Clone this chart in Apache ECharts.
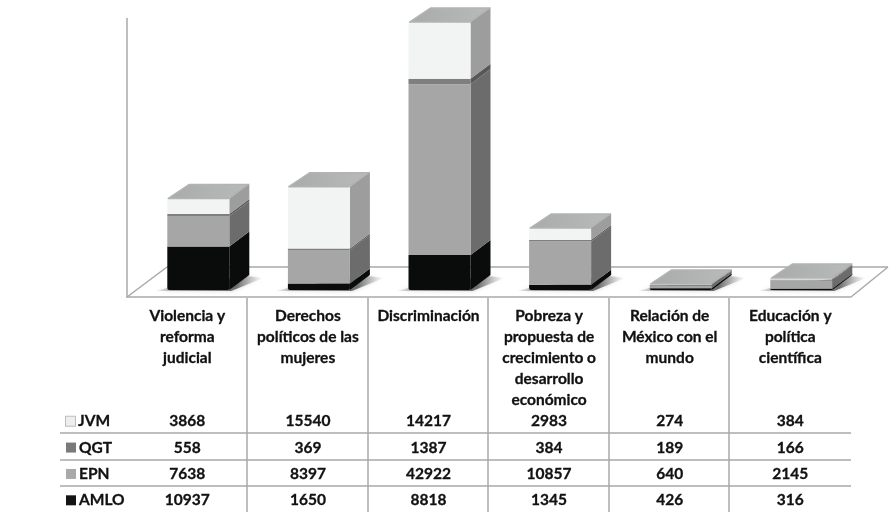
<!DOCTYPE html>
<html>
<head>
<meta charset="utf-8">
<style>html,body{margin:0;padding:0;background:#fff}#main{width:889px;height:516px}</style>
<script src="https://cdn.jsdelivr.net/npm/echarts@6/dist/echarts.min.js"></script>
</head>
<body>
<div id="main"></div>
<script>
var categories = ['Violencia y\nreforma\njudicial', 'Derechos\npolíticos de las\nmujeres', 'Discriminación',
  'Pobreza y\npropuesta de\ncrecimiento o\ndesarrollo\neconómico', 'Relación de\nMéxico con el\nmundo', 'Educación y\npolítica\ncientífica'];
var rows = ['JVM', 'QGT', 'EPN', 'AMLO'];
var jvm = [3868, 15540, 14217, 2983, 274, 384];
var qgt = [558, 369, 1387, 384, 189, 166];
var epn = [7638, 8397, 42922, 10857, 640, 2145];
var amlo = [10937, 1650, 8818, 1345, 426, 316];

var BAR_W = 62, DX = 20, DY = 15, LIFT = 7;
var FONT = 'Lato, Carlito, sans-serif';
var FONT_SIZE = 15.5;
var LINE = '#a9a9a9';
var INK = '#111111';

function grad(a, b, horizontal) {
  return new echarts.graphic.LinearGradient(0, 0, horizontal ? 1 : 0, horizontal ? 0 : 1, [
    {offset: 0, color: a}, {offset: 1, color: b}
  ]);
}

// sombra: clara a la izquierda, oscura junto a la barra, se pierde a la derecha
function shadowFill() {
  return new echarts.graphic.LinearGradient(0, 0, 1, 0, [
    {offset: 0, color: 'rgba(150,150,150,0.1)'},
    {offset: 0.15, color: 'rgba(110,110,110,0.55)'},
    {offset: 0.75, color: 'rgba(80,80,80,0.8)'},
    {offset: 1, color: 'rgba(150,150,150,0)'}
  ]);
}

function barItem(style, isBottom, isTop) {
  return function (params, api) {
    var p0 = api.coord([api.value(0), api.value(1)]);
    var p1 = api.coord([api.value(0), api.value(2)]);
    var x0 = p0[0] - 20, x1 = x0 + BAR_W;
    var yb = p0[1] - LIFT, yt = p1[1] - LIFT;
    var kids = [];
    if (isBottom) {
      // sombra sobre el piso
      kids.push({
        type: 'polygon',
        shape: {points: [[x0 - 12, yb + 1], [x1 + 2, yb + 1], [x1 + DX + 14, yb - DY + 3], [x1 + DX - 2, yb - DY + 1], [x0, yb - 2]]},
        style: {fill: shadowFill(), shadowBlur: 4, shadowColor: 'rgba(120,120,120,0.4)'}
      });
    }
    kids.push({
      type: 'polygon',
      shape: {points: [[x1, yb], [x1 + DX, yb - DY], [x1 + DX, yt - DY], [x1, yt]]},
      style: {fill: style.side}
    });
    kids.push({
      type: 'rect',
      shape: {x: x0, y: yt, width: BAR_W, height: yb - yt, r: isTop ? [3, 3, 0, 0] : (isBottom ? [0, 0, 2, 2] : 0)},
      style: {fill: style.front}
    });
    if (isTop) {
      kids.push({
        type: 'polygon',
        shape: {points: [[x0 + 1, yt], [x1 - 1, yt], [x1 + DX - 1, yt - DY + 1], [x0 + DX + 2, yt - DY + 1]]},
        style: {fill: grad('#a9abaa', '#b9bbba', true), stroke: '#b2b4b3', lineWidth: 1.5, lineJoin: 'round'}
      });
    }
    return {type: 'group', children: kids};
  };
}

function stackData(values, below) {
  return values.map(function (v, i) {
    var base = 0;
    below.forEach(function (b) { base += b[i]; });
    return [i, base, base + v];
  });
}

var cellData = [];
[jvm, qgt, epn, amlo].forEach(function (vals, r) {
  vals.forEach(function (v, c) { cellData.push([c, r, v]); });
});

var lines = [
  [[127, 297], [167, 267]], [[167, 267], [888, 267]], [[888, 267], [851, 297]],
  [[60, 433], [851, 433]], [[60, 460], [851, 460]], [[60, 486], [851, 486]],
  [[247, 298], [247, 512]], [[368, 298], [368, 512]], [[488, 298], [488, 512]],
  [[609, 298], [609, 512]], [[729, 298], [729, 512]]
];

var chart = echarts.init(document.getElementById('main'));
chart.setOption({
  animation: false,
  backgroundColor: '#fff',
  grid: [
    {left: 127, top: 18.5, width: 723.6, height: 278.5},
    {left: 127, top: 408, width: 723.6, height: 105.5}
  ],
  xAxis: [{
    type: 'category', gridIndex: 0, data: categories,
    axisLine: {lineStyle: {color: LINE, width: 1.5}},
    axisTick: {show: false},
    axisLabel: {interval: 0, margin: 8, fontFamily: FONT, fontWeight: 'bold', fontSize: FONT_SIZE, lineHeight: 21, color: INK, verticalAlign: 'top', textBorderColor: INK, textBorderWidth: 0.3}
  }, {
    type: 'category', gridIndex: 1, data: categories, show: false
  }],
  yAxis: [{
    type: 'value', gridIndex: 0, min: 0, max: 70000,
    axisLine: {show: true, lineStyle: {color: LINE, width: 1.5}},
    axisTick: {show: false}, axisLabel: {show: false}, splitLine: {show: false}
  }, {
    type: 'category', gridIndex: 1, inverse: true, data: rows,
    axisLine: {show: false}, axisTick: {show: false}, splitLine: {show: false},
    axisLabel: {
      align: 'left', margin: 61, fontFamily: FONT, fontWeight: 'bold', fontSize: FONT_SIZE, color: INK,
      formatter: function (v, i) { return '{k' + i + '|}{t|' + v + '}'; },
      rich: {
        k0: {width: 9, height: 9, backgroundColor: '#eeeeee', borderColor: '#bdbdbd', borderWidth: 1},
        k1: {width: 10, height: 10, backgroundColor: '#7a7a7a'},
        k2: {width: 10, height: 10, backgroundColor: '#a9a9a9'},
        k3: {width: 10, height: 10, backgroundColor: '#141414'},
        t: {padding: [0, 0, 0, 3], fontFamily: FONT, fontWeight: 'bold', fontSize: FONT_SIZE, color: INK, textBorderColor: INK, textBorderWidth: 0.3}
      }
    }
  }],
  graphic: lines.map(function (l) {
    return {
      type: 'line', silent: true, z: 0,
      shape: {x1: l[0][0], y1: l[0][1], x2: l[1][0], y2: l[1][1]},
      style: {stroke: LINE, lineWidth: 1.5}
    };
  }),
  series: [{
    name: 'AMLO', type: 'custom', xAxisIndex: 0, yAxisIndex: 0,
    renderItem: barItem({front: '#0a0c0b', side: '#0a0c0b'}, true, false),
    data: stackData(amlo, [])
  }, {
    name: 'EPN', type: 'custom', xAxisIndex: 0, yAxisIndex: 0,
    renderItem: barItem({front: '#a6a6a6', side: '#6c6c6c'}, false, false),
    data: stackData(epn, [amlo])
  }, {
    name: 'QGT', type: 'custom', xAxisIndex: 0, yAxisIndex: 0,
    renderItem: barItem({front: '#7f7f7f', side: '#585858'}, false, false),
    data: stackData(qgt, [amlo, epn])
  }, {
    name: 'JVM', type: 'custom', xAxisIndex: 0, yAxisIndex: 0,
    renderItem: barItem({front: '#f2f4f4', side: '#9d9d9d'}, false, true),
    data: stackData(jvm, [amlo, epn, qgt])
  }, {
    name: 'tabla', type: 'custom', xAxisIndex: 1, yAxisIndex: 1,
    renderItem: function (params, api) {
      var p = api.coord([api.value(0), api.value(1)]);
      return {
        type: 'text', x: p[0], y: p[1],
        style: {text: String(api.value(2)), align: 'center', verticalAlign: 'middle', font: 'bold ' + FONT_SIZE + 'px ' + FONT, fill: INK, stroke: INK, lineWidth: 0.3}
      };
    },
    data: cellData
  }]
});
</script>
</body>
</html>
